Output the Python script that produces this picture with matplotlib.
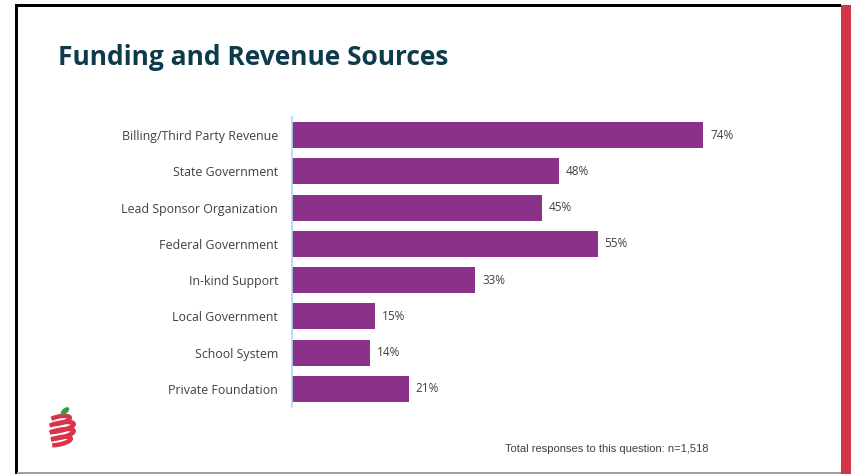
import matplotlib
matplotlib.use("Agg")
import matplotlib.pyplot as plt
from matplotlib.patches import Rectangle, Ellipse, Arc
import numpy as np

categories = ["Billing/Third Party Revenue", "State Government", "Lead Sponsor Organization",
              "Federal Government", "In-kind Support", "Local Government",
              "School System", "Private Foundation"]
values = [74, 48, 45, 55, 33, 15, 14, 21]
value_labels = [f"{v}%" for v in values]
title = "Funding and Revenue Sources"
footer = "Total responses to this question: n=1,518"

W, H = 851, 474
fig = plt.figure(figsize=(W / 100, H / 100), dpi=100)
fig.patch.set_facecolor("white")

# frame decorations (figure pixel coords)
bg = fig.add_axes([0, 0, 1, 1])
bg.set_xlim(0, W)
bg.set_ylim(H, 0)
bg.axis("off")
bg.add_patch(Rectangle((15, 4), 2.5, H - 4, color="black", lw=0))
bg.add_patch(Rectangle((15, 4), 826, 2.5, color="black", lw=0))
bg.add_patch(Rectangle((841, 5), 10, H - 5, color="#D5344A", lw=0))
bg.add_patch(Rectangle((17, 472), 824, 2, color="#A0A0A0", lw=0))

bg.text(58, 57, title, fontsize=19, fontweight="bold", color="#0E3B4B",
        family=["Open Sans", "DejaVu Sans"], va="center", ha="left")
bg.text(505, 449, footer, fontsize=8, color="#404040",
        family=["Liberation Sans Narrow", "Liberation Sans", "DejaVu Sans"], va="center", ha="left")

# logo
red = "#D8344A"
for cy, w, hgt in [(420, 22, 7), (427, 30, 8), (434, 30, 8), (441, 24, 7)]:
    bg.add_patch(Arc((59, cy), w, hgt, angle=-12, theta1=200, theta2=520, color=red, lw=3.2))
bg.add_patch(Ellipse((65, 411), 10, 5.5, angle=-40, color="#3E9A4A", lw=0))

ax = fig.add_axes([292 / W, 1 - 407 / H, 500 / W, 290 / H])
y = np.arange(len(categories))
ax.barh(y, values, height=0.72, color="#8A3289", zorder=2)
ax.set_ylim(len(categories) - 0.5, -0.5)
ax.set_xlim(0, 90)
for s in ["top", "right", "bottom"]:
    ax.spines[s].set_visible(False)
ax.spines["left"].set_color("#A9DAF2")
ax.spines["left"].set_linewidth(1.2)
ax.set_xticks([])
ax.set_yticks(y)
ax.set_yticklabels(categories, fontsize=8.95, color="#404040", family=["Open Sans", "DejaVu Sans"])
ax.tick_params(axis="y", length=0, pad=10)
for yi, v, lab in zip(y, values, value_labels):
    ax.annotate(lab, (v, yi), xytext=(5, 0), textcoords="offset points", va="center", ha="left",
                fontsize=8.5, color="#404040", family=["Open Sans", "DejaVu Sans"])

fig.savefig("out.png", dpi=100, facecolor="white")
